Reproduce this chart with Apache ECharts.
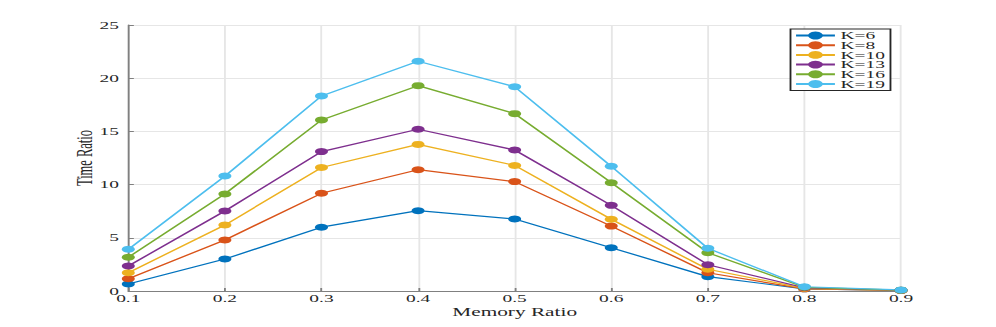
<!DOCTYPE html>
<html><head><meta charset="utf-8">
<script src="https://cdn.jsdelivr.net/npm/echarts@6/dist/echarts.min.js"></script>
<style>
html,body{margin:0;padding:0;background:#fff;overflow:hidden}
#wrap{width:996px;height:327px;overflow:hidden}
#c{width:538px;height:327px;transform:scaleX(1.85130);transform-origin:0 0}
</style>
</head><body><div id="wrap"><div id="c"></div></div>
<script>
const xValues = [0.1, 0.2, 0.3, 0.4, 0.5, 0.6, 0.7, 0.8, 0.9];
const seriesNames = ['K=6', 'K=8', 'K=10', 'K=13', 'K=16', 'K=19'];
const k6  = [0.66, 3.0, 6.0, 7.55, 6.77, 4.07, 1.35, 0.2, 0.05];
const k8  = [1.15, 4.8, 9.18, 11.4, 10.28, 6.1, 1.72, 0.2, 0.05];
const k10 = [1.72, 6.2, 11.6, 13.78, 11.8, 6.74, 2.04, 0.25, 0.06];
const k13 = [2.35, 7.52, 13.1, 15.2, 13.25, 8.05, 2.47, 0.3, 0.07];
const k16 = [3.17, 9.12, 16.07, 19.3, 16.67, 10.18, 3.6, 0.35, 0.08];
const k19 = [3.92, 10.8, 18.33, 21.6, 19.2, 11.72, 4.01, 0.4, 0.1];
const yTicks = [0, 5, 10, 15, 20, 25];
const colors = ['#0072BD', '#D95319', '#EDB120', '#7E2F8E', '#77AC30', '#4DBEEE'];
const allData = [k6, k8, k10, k13, k16, k19];
const font = '"Liberation Serif", "Times New Roman", serif';
const txt = '#262626';

const chart = echarts.init(document.getElementById('c'), null, { renderer: 'svg' });
chart.setOption({
  animation: false,
  grid: { left: 69.3, right: 51.3, top: 25, bottom: 36, outerBoundsMode: 'none', containLabel: false },
  xAxis: {
    type: 'value', min: 0.1, max: 0.9, interval: 0.1,
    name: 'Memory Ratio', nameLocation: 'middle', nameGap: 15, nameMoveOverlap: false,
    nameTextStyle: { fontFamily: font, fontSize: 11.5, color: txt },
    axisLine: { show: true, lineStyle: { color: '#808080', width: 1 } },
    axisTick: { show: true, inside: true, length: 3, lineStyle: { color: '#808080' } },
    axisLabel: { fontFamily: font, fontSize: 10.5, color: txt, margin: 2,
      formatter: v => v.toFixed(1) },
    splitLine: { show: true, lineStyle: { color: '#e6e6e6', width: 1 } }
  },
  yAxis: {
    type: 'value', min: yTicks[0], max: yTicks[yTicks.length - 1], interval: 5,
    name: 'Time Ratio', nameLocation: 'middle', nameGap: 17.5, nameRotate: 90, nameMoveOverlap: false,
    nameTextStyle: { fontFamily: font, fontSize: 12.5, color: txt },
    axisLine: { show: true, lineStyle: { color: '#808080', width: 1 } },
    axisTick: { show: true, inside: true, length: 3, lineStyle: { color: '#808080' } },
    axisLabel: { fontFamily: font, fontSize: 10.5, color: txt, margin: 5 },
    splitLine: { show: true, lineStyle: { color: '#e6e6e6', width: 1 } }
  },
  legend: {
    orient: 'vertical', right: 57, top: 29, itemGap: -1.3, itemWidth: 21, itemHeight: 9.9,
    padding: [1, 3, 1, 2],
    backgroundColor: '#fff', borderColor: '#262626', borderWidth: 1,
    textStyle: { fontFamily: font, fontSize: 10.5, lineHeight: 9.9, color: txt, padding: [0, 0, 0, -2] },
    data: seriesNames
  },
  series: seriesNames.map((n, i) => ({
    name: n, type: 'line', color: colors[i],
    data: xValues.map((x, j) => [x, allData[i][j]]),
    symbol: 'circle', symbolSize: 7, showSymbol: true,
    lineStyle: { width: 1.2, color: colors[i] },
    itemStyle: { color: colors[i] }
  }))
});
</script></body></html>
